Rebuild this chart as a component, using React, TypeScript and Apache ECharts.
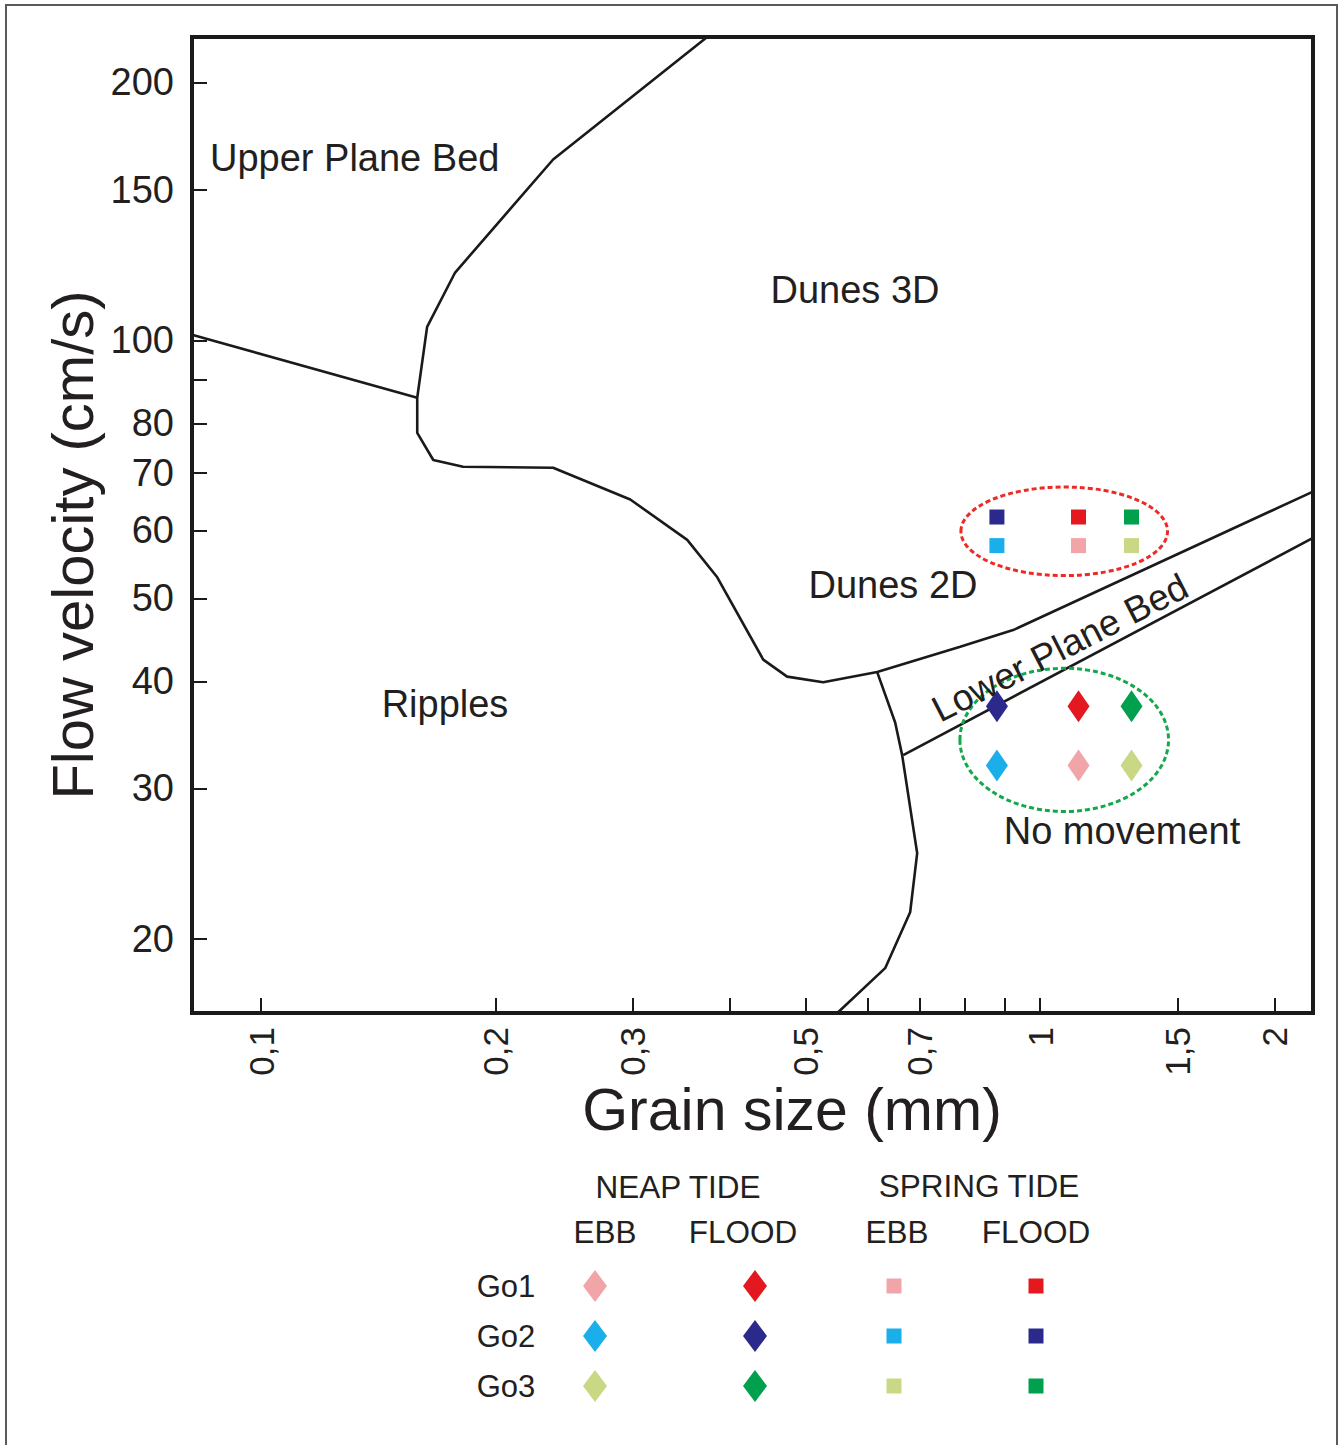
import React, { useEffect, useRef } from "react";
import * as echarts from "echarts";

// ---- Data ----
const samples = ["Go1", "Go2", "Go3"];
const floodColors = ["#e3191f", "#2b2a8c", "#00a04e"];
const ebbColors = ["#f2a5a8", "#1aaeea", "#c8d884"];
const grainSizeMm = [1.12, 0.88, 1.31];
const springFloodVel = [62.2, 62.2, 62.2];
const springEbbVel = [57.6, 57.6, 57.6];
const neapFloodVel = [37.4, 37.4, 37.4];
const neapEbbVel = [31.9, 31.9, 31.9];

const xTickValues = [0.1, 0.2, 0.3, 0.4, 0.5, 0.6, 0.7, 0.8, 0.9, 1, 1.5, 2];
const xLabelValues = [0.1, 0.2, 0.3, 0.5, 0.7, 1, 1.5, 2];
const yTickValues = [20, 30, 40, 50, 60, 70, 80, 90, 100, 150, 200];
const yLabelValues = [20, 30, 40, 50, 60, 70, 80, 100, 150, 200];

const X_MIN = 0.0815;
const X_MAX = 2.24;
const Y_MIN = 16.4;
const Y_MAX = 226;

// bedform boundaries [grain size mm, velocity cm/s]
const upperPlaneBedBoundary = [
  [0.0815, 101.5],
  [0.1586, 85.7],
];
const rippleDuneBoundary = [
  [0.3737, 226],
  [0.237, 162.6],
  [0.1774, 120.0],
  [0.1633, 103.7],
  [0.1586, 85.7],
  [0.1586, 78.0],
  [0.1663, 72.5],
  [0.1816, 71.2],
  [0.237, 71.0],
  [0.2977, 65.2],
  [0.3523, 58.5],
  [0.385, 52.9],
  [0.441, 42.4],
  [0.4733, 40.5],
  [0.5265, 39.9],
  [0.6177, 41.0],
  [0.7895, 43.9],
  [0.9231, 45.9],
  [2.24, 66.6],
];
const lowerPlaneBedBase = [
  [0.6671, 32.8],
  [2.24, 58.8],
];
const noMovementBoundary = [
  [0.6177, 41.0],
  [0.6514, 35.8],
  [0.665, 32.8],
  [0.6952, 25.2],
  [0.6809, 21.5],
  [0.6324, 18.5],
  [0.549, 16.4],
];

const FONT = "'Liberation Sans', Arial, Helvetica, sans-serif";
const TXT = "#231f20";

function fmt(v: number) {
  return String(v).replace(".", ",");
}

export default function App() {
  const ref = useRef<HTMLDivElement>(null);

  useEffect(() => {
    document.body.style.margin = "0";
    const chart = echarts.init(ref.current!, null, { renderer: "svg" });

    const lineSeries = (name: string, data: number[][]) => ({
      type: "line",
      name,
      data,
      symbol: "none",
      silent: true,
      z: 3,
      lineStyle: { color: "#1a1a1a", width: 2.6 },
    });

    const pointSeries = (
      name: string,
      vel: number[],
      colors: string[],
      symbol: string,
      size: number | number[]
    ) => ({
      type: "scatter",
      name,
      symbol,
      symbolSize: size,
      z: 4,
      itemStyle: { opacity: 1 },
      data: samples.map((s, i) => ({
        name: s,
        value: [grainSizeMm[i], vel[i]],
        itemStyle: { color: colors[i], opacity: 1 },
      })),
    });

    chart.setOption({
      animation: false,
      backgroundColor: "#ffffff",
      grid: {
        left: 192,
        top: 37,
        width: 1121,
        height: 976,
        show: true,
        borderColor: "#1a1a1a",
        borderWidth: 4,
        backgroundColor: "#ffffff",
      },
      xAxis: {
        type: "log",
        min: X_MIN,
        max: X_MAX,
        axisLine: { show: true, lineStyle: { color: "#1a1a1a", width: 4 } },
        splitLine: { show: false },
        minorTick: { show: false },
        axisTick: {
          show: true,
          inside: true,
          length: 15,
          lineStyle: { color: "#1a1a1a", width: 2 },
          customValues: xTickValues,
        },
        axisLabel: {
          show: true,
          rotate: 90,
          margin: 14,
          fontSize: 35,
          fontFamily: FONT,
          color: TXT,
          customValues: xLabelValues,
          formatter: (v: number) => fmt(v),
        },
      },
      yAxis: {
        type: "log",
        min: Y_MIN,
        max: Y_MAX,
        axisLine: { show: true, lineStyle: { color: "#1a1a1a", width: 4 } },
        splitLine: { show: false },
        minorTick: { show: false },
        axisTick: {
          show: true,
          inside: true,
          length: 15,
          lineStyle: { color: "#1a1a1a", width: 2 },
          customValues: yTickValues,
        },
        axisLabel: {
          show: true,
          margin: 18,
          fontSize: 38,
          fontFamily: FONT,
          color: TXT,
          customValues: yLabelValues,
          formatter: (v: number) => fmt(v),
        },
      },
      series: [
        lineSeries("Upper plane bed boundary", upperPlaneBedBoundary),
        lineSeries("Ripple / dune boundary", rippleDuneBoundary),
        lineSeries("Lower plane bed base", lowerPlaneBedBase),
        lineSeries("No movement boundary", noMovementBoundary),
        pointSeries("Neap tide ebb", neapEbbVel, ebbColors, "diamond", [22, 32]),
        pointSeries("Neap tide flood", neapFloodVel, floodColors, "diamond", [22, 32]),
        pointSeries("Spring tide ebb", springEbbVel, ebbColors, "rect", 15),
        pointSeries("Spring tide flood", springFloodVel, floodColors, "rect", 15),
      ],
    });

    // ellipses around groups, computed from data positions
    const px = (x: number, y: number) =>
      chart.convertToPixel({ gridIndex: 0 }, [x, y]) as number[];
    const groupBox = (vels: number[][]) => {
      let x0 = Infinity, x1 = -Infinity, y0 = Infinity, y1 = -Infinity;
      vels.forEach((arr) =>
        arr.forEach((v, i) => {
          const p = px(grainSizeMm[i], v);
          x0 = Math.min(x0, p[0]);
          x1 = Math.max(x1, p[0]);
          y0 = Math.min(y0, p[1]);
          y1 = Math.max(y1, p[1]);
        })
      );
      return { cx: (x0 + x1) / 2, cy: (y0 + y1) / 2, hw: (x1 - x0) / 2, hh: (y1 - y0) / 2 };
    };
    const spring = groupBox([springFloodVel, springEbbVel]);
    const neap = groupBox([neapFloodVel, neapEbbVel]);

    const text = (t: string, x: number, y: number, size: number, extra: any = {}) => ({
      type: "text",
      x,
      y,
      z: 20,
      silent: true,
      ...extra,
      style: {
        text: t,
        fontSize: size,
        fontFamily: FONT,
        fill: TXT,
        align: "center",
        verticalAlign: "middle",
        ...(extra.style || {}),
      },
    });

    const diamond = (x: number, y: number, color: string) => ({
      type: "polygon",
      x,
      y,
      z: 20,
      shape: { points: [[0, -16], [12, 0], [0, 16], [-12, 0]] },
      style: { fill: color },
    });
    const square = (x: number, y: number, color: string) => ({
      type: "rect",
      x: x - 7.5,
      y: y - 7.5,
      z: 20,
      shape: { x: 0, y: 0, width: 15, height: 15 },
      style: { fill: color },
    });

    const legendRows = [1286, 1336, 1386];
    const legendGraphics: any[] = [
      text("NEAP TIDE", 678, 1187, 31.5),
      text("SPRING TIDE", 979, 1186, 31.5),
      text("EBB", 605, 1232, 31.5),
      text("FLOOD", 743, 1232, 31.5),
      text("EBB", 897, 1232, 31.5),
      text("FLOOD", 1036, 1232, 31.5),
    ];
    samples.forEach((s, i) => {
      const y = legendRows[i];
      legendGraphics.push(text(s, 506, y, 31));
      legendGraphics.push(diamond(595, y, ebbColors[i]));
      legendGraphics.push(diamond(755, y, floodColors[i]));
      legendGraphics.push(square(894, y, ebbColors[i]));
      legendGraphics.push(square(1036, y, floodColors[i]));
    });

    chart.setOption({
      graphic: [
        {
          type: "rect",
          z: -10,
          silent: true,
          shape: { x: 6, y: 5, width: 1331, height: 1460 },
          style: { fill: "none", stroke: "#5a5a5a", lineWidth: 2 },
        },
        {
          type: "ellipse",
          z: 15,
          silent: true,
          shape: { cx: spring.cx, cy: spring.cy, rx: spring.hw + 36, ry: spring.hh + 30 },
          style: { fill: "none", stroke: "#ee2a24", lineWidth: 3, lineDash: [5, 3] },
        },
        {
          type: "ellipse",
          z: 15,
          silent: true,
          shape: { cx: neap.cx, cy: neap.cy + 4, rx: neap.hw + 37, ry: neap.hh + 42 },
          style: { fill: "none", stroke: "#13a84a", lineWidth: 3, lineDash: [5, 3] },
        },
        text("Flow velocity (cm/s)", 72, 545, 58, { rotation: Math.PI / 2 }),
        text("Grain size (mm)", 792, 1110, 59),
        text("Upper Plane Bed", 210, 158, 38, { style: { align: "left" } }),
        text("Dunes 3D", 855, 290, 38),
        text("Dunes 2D", 893, 585, 38),
        text("Ripples", 445, 704, 38),
        text("No movement", 1122, 831, 38),
        text("Lower Plane Bed", 1060, 648, 37, { rotation: (27 * Math.PI) / 180 }),
        ...legendGraphics,
      ],
    });

    return () => chart.dispose();
  }, []);

  return <div ref={ref} style={{ width: 1339, height: 1445 }} />;
}
